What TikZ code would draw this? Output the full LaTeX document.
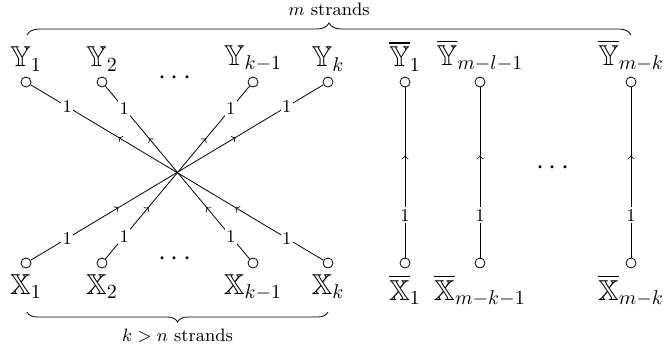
\documentclass[tikz,border=0pt]{standalone}
\usepackage{amssymb}
\usetikzlibrary{decorations.markings,decorations.pathreplacing}
\begin{document}
\begin{tikzpicture}[x=0.5pt,y=-0.5pt,
  port/.style={circle,draw,inner sep=0pt,minimum size=5pt},
  wt/.style={fill=white,inner sep=0.8pt,font=\small},
  cross/.style={decoration={markings,mark=at position 0.3 with {\arrow{>}},mark=at position 0.7 with {\arrow{>}}},postaction={decorate}},
  vert/.style={decoration={markings,mark=at position 0.6 with {\arrow{>}}},postaction={decorate}},
  toplab/.style={label={[font=\Large,inner sep=1pt,label distance=1.5pt]above:#1}},
  botlab/.style={label={[font=\Large,inner sep=1pt,label distance=2pt]below:#1}},
  bracebig/.style={decorate,decoration={brace,amplitude=6pt}},
  bracesmall/.style={decorate,decoration={brace,amplitude=5pt}},
  dotsnode/.style={font=\Large}]
\useasboundingbox (0,0) rectangle (666,345);
% top ports
\node[port,toplab={$\mathbb{Y}_1$}] (Y1) at (26,82) {};
\node[port,toplab={$\mathbb{Y}_2$}] (Y2) at (102,82) {};
\node[port,toplab={$\mathbb{Y}_{k-1}$}] (Yk1) at (253,82) {};
\node[port,toplab={$\mathbb{Y}_k$}] (Yk) at (328,82) {};
\node[port,toplab={$\overline{\mathbb{Y}}_1$}] (Yb1) at (405,82) {};
\node[port,toplab={$\overline{\mathbb{Y}}_{m-l-1}$}] (Yb2) at (480,82) {};
\node[port,toplab={$\overline{\mathbb{Y}}_{m-k}$}] (Yb3) at (631,82) {};
% bottom ports
\node[port,botlab={$\mathbb{X}_1$}] (X1) at (26,263) {};
\node[port,botlab={$\mathbb{X}_2$}] (X2) at (102,263) {};
\node[port,botlab={$\mathbb{X}_{k-1}$}] (Xk1) at (253,263) {};
\node[port,botlab={$\mathbb{X}_k$}] (Xk) at (328,263) {};
\node[port,botlab={$\overline{\mathbb{X}}_1$}] (Xb1) at (405,263) {};
\node[port,botlab={$\overline{\mathbb{X}}_{m-k-1}$}] (Xb2) at (480,263) {};
\node[port,botlab={$\overline{\mathbb{X}}_{m-k}$}] (Xb3) at (631,263) {};
% dots
\node[dotsnode] (d1) at (175,78) {$\cdots$};
\node[dotsnode] (d2) at (175,259) {$\cdots$};
\node[dotsnode] (d3) at (553,168) {$\cdots$};
% crossing strands
\draw[cross] (X1) -- node[wt,pos=0.125]{1} node[wt,pos=0.875]{1} (Yk);
\draw[cross] (X2) -- node[wt,pos=0.13]{1} node[wt,pos=0.87]{1} (Yk1);
\draw[cross] (Xk1) -- node[wt,pos=0.13]{1} node[wt,pos=0.87]{1} (Y2);
\draw[cross] (Xk) -- node[wt,pos=0.125]{1} node[wt,pos=0.875]{1} (Y1);
% vertical strands
\draw[vert] (Xb1) -- node[wt,pos=0.25]{1} (Yb1);
\draw[vert] (Xb2) -- node[wt,pos=0.25]{1} (Yb2);
\draw[vert] (Xb3) -- node[wt,pos=0.25]{1} (Yb3);
% braces
\coordinate (tb1) at (27,35);
\coordinate (tb2) at (631,35);
\draw[bracebig] (tb1) -- node[above=6pt,font=\small] (tt) {$m$ strands} (tb2);
\coordinate (bb1) at (328,312);
\coordinate (bb2) at (27,312);
\draw[bracesmall] (bb1) -- node[below=5pt,font=\small] (bt) {$k>n$ strands} (bb2);
\end{tikzpicture}
\end{document}
